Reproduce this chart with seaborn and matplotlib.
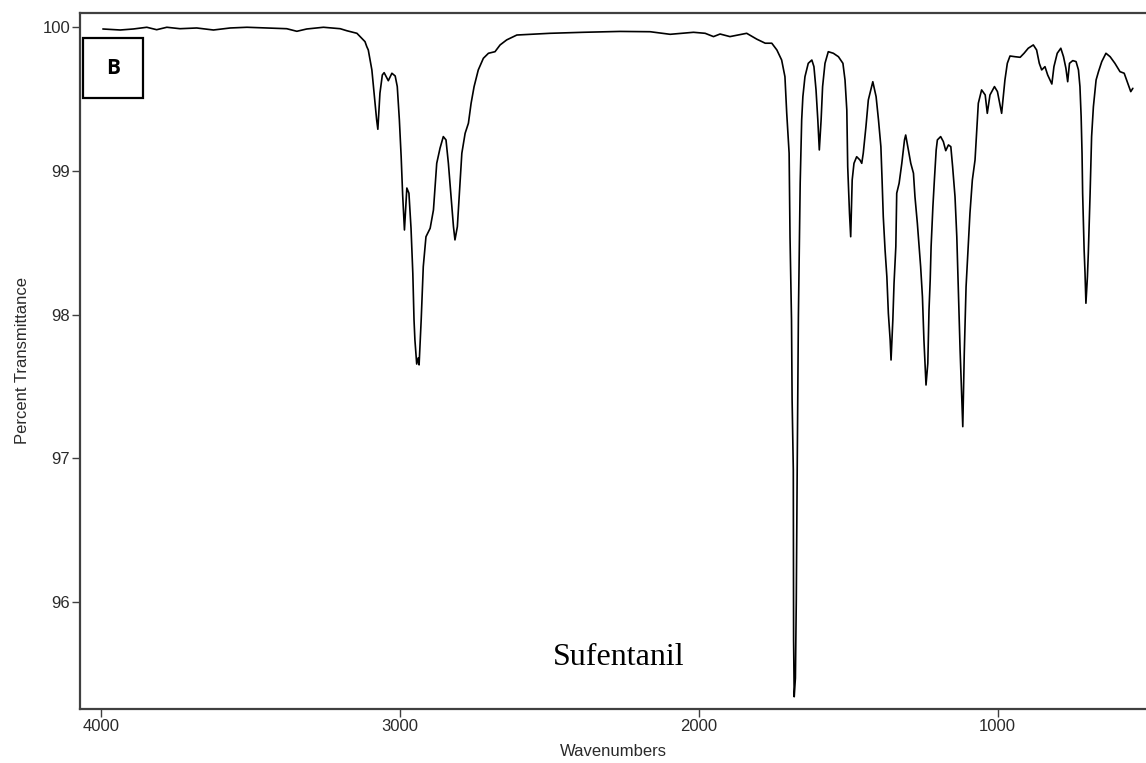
import matplotlib
matplotlib.use("Agg")
import matplotlib.pyplot as plt
from matplotlib.patches import Rectangle
import seaborn as sns
import pandas as pd

# ---- data ----
wavenumber = [
    3994, 3936, 3892, 3847, 3814, 3780, 3736, 3680, 3624, 3568,
    3512, 3446, 3379, 3345, 3312, 3256, 3200, 3178, 3144, 3117,
    3111, 3106, 3094, 3086, 3078, 3074, 3067, 3059, 3053, 3039,
    3027, 3016, 3009, 3002, 2996, 2991, 2985, 2977, 2970, 2963,
    2957, 2953, 2950, 2944, 2939, 2936, 2929, 2922, 2913, 2899,
    2888, 2877, 2866, 2855, 2846, 2838, 2829, 2821, 2816, 2808,
    2801, 2793, 2782, 2771, 2762, 2752, 2738, 2721, 2704, 2682,
    2665, 2643, 2609, 2498, 2387, 2264, 2163, 2096, 2018, 1979,
    1951, 1929, 1896, 1840, 1806, 1778, 1756, 1739, 1723, 1712,
    1706, 1698, 1695, 1690, 1688, 1684, 1683, 1681, 1677, 1674,
    1671, 1667, 1661, 1656, 1652, 1645, 1634, 1622, 1615, 1608,
    1602, 1597, 1591, 1586, 1578, 1567, 1550, 1533, 1518, 1511,
    1505, 1502, 1496, 1492, 1487, 1481, 1472, 1461, 1455, 1450,
    1441, 1433, 1418, 1407, 1399, 1391, 1387, 1383, 1377, 1371,
    1366, 1360, 1357, 1351, 1347, 1341, 1338, 1330, 1321, 1312,
    1308, 1299, 1291, 1282, 1277, 1269, 1263, 1258, 1252, 1247,
    1242, 1240, 1234, 1230, 1226, 1223, 1217, 1212, 1206, 1202,
    1191, 1182, 1174, 1165, 1157, 1151, 1143, 1137, 1132, 1126,
    1120, 1117, 1112, 1106, 1100, 1093, 1085, 1076, 1070, 1065,
    1054, 1042, 1035, 1026, 1011, 1001, 987, 976, 968, 959,
    942, 925, 912, 898, 881, 870, 861, 853, 842, 833,
    819, 812, 801, 789, 780, 772, 766, 760, 749, 738,
    730, 725, 721, 718, 716, 711, 708, 705, 700, 697,
    691, 686, 680, 671, 663, 652, 638, 624, 608, 591,
    577, 563, 555, 548,
]

transmittance = [
    99.988, 99.981, 99.988, 100.000, 99.983, 100.000, 99.990, 99.995, 99.981, 99.995,
    100.000, 99.995, 99.990, 99.972, 99.988, 100.000, 99.990, 99.976, 99.958, 99.900,
    99.865, 99.842, 99.703, 99.529, 99.355, 99.290, 99.541, 99.668, 99.684, 99.628,
    99.680, 99.661, 99.587, 99.355, 99.099, 98.833, 98.589, 98.881, 98.845, 98.601,
    98.288, 97.963, 97.824, 97.656, 97.698, 97.650, 97.963, 98.334, 98.542, 98.601,
    98.728, 99.053, 99.158, 99.239, 99.216, 99.053, 98.821, 98.612, 98.520, 98.612,
    98.845, 99.123, 99.262, 99.332, 99.471, 99.587, 99.703, 99.784, 99.819, 99.830,
    99.877, 99.912, 99.946, 99.958, 99.965, 99.971, 99.969, 99.951, 99.965, 99.958,
    99.935, 99.953, 99.935, 99.958, 99.917, 99.889, 99.889, 99.842, 99.772, 99.656,
    99.401, 99.123, 98.540, 97.963, 97.406, 96.919, 95.735, 95.340, 95.470, 96.014,
    96.919, 97.984, 98.914, 99.355, 99.517, 99.656, 99.749, 99.772, 99.726, 99.564,
    99.355, 99.146, 99.355, 99.587, 99.749, 99.830, 99.819, 99.795, 99.749, 99.633,
    99.424, 99.030, 98.705, 98.542, 98.937, 99.053, 99.099, 99.076, 99.053, 99.123,
    99.308, 99.494, 99.621, 99.517, 99.355, 99.169, 98.937, 98.682, 98.450, 98.264,
    98.009, 97.824, 97.684, 97.963, 98.218, 98.473, 98.845, 98.914, 99.053, 99.216,
    99.250, 99.146, 99.053, 98.984, 98.821, 98.636, 98.473, 98.334, 98.125, 97.824,
    97.592, 97.510, 97.661, 98.032, 98.241, 98.473, 98.751, 98.937, 99.146, 99.216,
    99.239, 99.204, 99.141, 99.181, 99.169, 99.030, 98.821, 98.542, 98.194, 97.754,
    97.406, 97.220, 97.731, 98.194, 98.427, 98.705, 98.937, 99.076, 99.285, 99.471,
    99.564, 99.529, 99.401, 99.529, 99.587, 99.552, 99.401, 99.633, 99.749, 99.800,
    99.795, 99.791, 99.819, 99.854, 99.877, 99.842, 99.749, 99.703, 99.726, 99.668,
    99.605, 99.726, 99.819, 99.854, 99.795, 99.715, 99.621, 99.749, 99.768, 99.761,
    99.703, 99.587, 99.378, 99.123, 98.845, 98.450, 98.288, 98.079, 98.264, 98.427,
    98.845, 99.239, 99.447, 99.633, 99.691, 99.761, 99.819, 99.795, 99.749, 99.691,
    99.680, 99.598, 99.552, 99.575,
]

x_ticks = [4000, 3000, 2000, 1000]
y_ticks = [96, 97, 98, 99, 100]
x_label = "Wavenumbers"
y_label = "Percent Transmittance"
panel_tag = "B"
compound = "Sufentanil"

df = pd.DataFrame({"wn": wavenumber, "T": transmittance})

sns.set_style("white")
plt.rcParams["font.family"] = ["Liberation Sans", "DejaVu Sans"]

fig = plt.figure(figsize=(11.46, 7.63), dpi=100)
ax = fig.add_axes([0.0702, 0.0708, 0.9298, 0.9122])

sns.lineplot(data=df, x="wn", y="T", sort=False, estimator=None,
             color="black", linewidth=1.2, ax=ax)

ax.set_xlim(4069, 504)
ax.set_ylim(95.255, 100.0995)
ax.set_xticks(x_ticks)
ax.set_yticks(y_ticks)
ax.set_xticklabels([str(v) for v in x_ticks])
ax.set_yticklabels([str(v) for v in y_ticks])

for side in ["left", "bottom", "top"]:
    ax.spines[side].set_visible(True)
    ax.spines[side].set_color("#404040")
    ax.spines[side].set_linewidth(1.6)
ax.spines["right"].set_visible(False)

ax.tick_params(axis="both", which="major", direction="out", length=5.5,
               width=1.0, color="#404040", labelsize=12,
               labelcolor="#2a2a2a", pad=2, left=True, bottom=True)

ax.set_xlabel(x_label, fontsize=12, color="#2a2a2a", labelpad=7)
ax.set_ylabel(y_label, fontsize=12, color="#2a2a2a", labelpad=9)

# panel tag box
fig.patches.append(Rectangle((83 / 1146, 1 - 98.3 / 763), 60 / 1146, 60.6 / 763,
                             transform=fig.transFigure, fill=False,
                             edgecolor="black", linewidth=1.6, zorder=5))
fig.text(113 / 1146, 1 - 68 / 763, panel_tag, ha="center", va="center",
         fontsize=15, fontweight="bold", family=["Open Sans", "DejaVu Sans"],
         color="black")

fig.text(553 / 1146, 1 - 665 / 763, compound, ha="left", va="baseline",
         fontsize=23, family=["Liberation Serif", "DejaVu Serif"], color="black")

fig.savefig("out.png", dpi=100, facecolor="white")
